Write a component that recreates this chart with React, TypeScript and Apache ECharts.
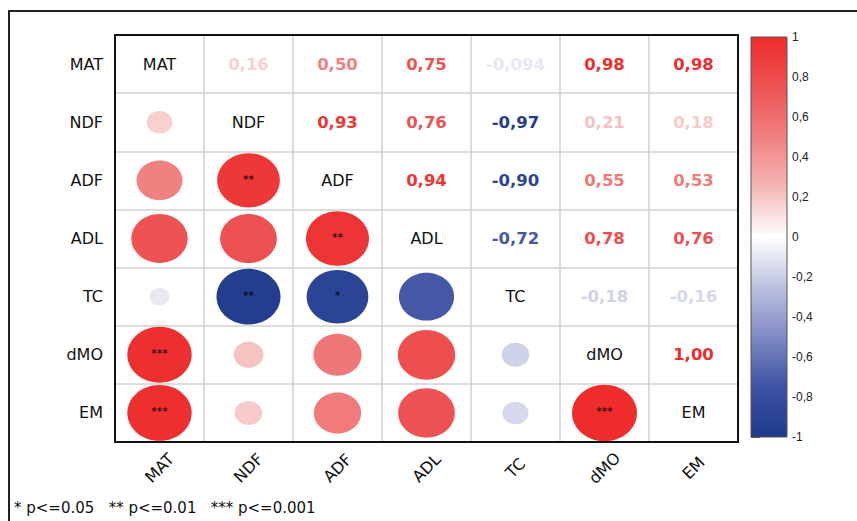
import React, { useEffect, useRef } from "react";
import * as echarts from "echarts";

// ---- data ----
const variables = ["MAT", "NDF", "ADF", "ADL", "TC", "dMO", "EM"];

const rowMAT = [1, 0.16, 0.5, 0.75, -0.094, 0.98, 0.98];
const rowNDF = [0.16, 1, 0.93, 0.76, -0.97, 0.21, 0.18];
const rowADF = [0.5, 0.93, 1, 0.94, -0.9, 0.55, 0.53];
const rowADL = [0.75, 0.76, 0.94, 1, -0.72, 0.78, 0.76];
const rowTC = [-0.094, -0.97, -0.9, -0.72, 1, -0.18, -0.16];
const rowDMO = [0.98, 0.21, 0.55, 0.78, -0.18, 1, 1.0];
const rowEM = [0.98, 0.18, 0.53, 0.76, -0.16, 1.0, 1];
const corrMatrix = [rowMAT, rowNDF, rowADF, rowADL, rowTC, rowDMO, rowEM];

// significance stars (lower triangle)
const starsMAT = ["", "", "", "", "", "", ""];
const starsNDF = ["", "", "", "", "", "", ""];
const starsADF = ["", "**", "", "", "", "", ""];
const starsADL = ["", "", "**", "", "", "", ""];
const starsTC = ["", "**", "*", "", "", "", ""];
const starsDMO = ["***", "", "", "", "", "", ""];
const starsEM = ["***", "", "", "", "", "***", ""];
const starsMatrix = [starsMAT, starsNDF, starsADF, starsADL, starsTC, starsDMO, starsEM];

const colorbarMin = -1;
const colorbarMax = 1;
const colorbarInterval = 0.2;
const footnote = "* p<=0.05   ** p<=0.01   *** p<=0.001";

// palette from -1 to 1
const palette = [
  "#1F3A8C",
  "#3E52A3",
  "#7F8AC3",
  "#BDC2E1",
  "#FFFFFF",
  "#F6B6B6",
  "#F18080",
  "#EE5353",
  "#EE2C2C",
];

function corrColor(v: number) {
  return echarts.color.lerp((v + 1) / 2, palette) as string;
}

function fmt(v: number) {
  const s = Math.abs(v) < 0.1 ? v.toFixed(3) : v.toFixed(2);
  return s.replace(".", ",");
}

type Cell = { col: number; row: number; value: number; stars: string };
const cells: Cell[] = [];
corrMatrix.forEach((r, i) =>
  r.forEach((v, j) => cells.push({ col: j, row: i, value: v, stars: starsMatrix[i][j] }))
);

// layout
const G = { left: 115, top: 35, width: 623, height: 407 };
const CB = { left: 751, top: 37, width: 36, height: 400 };

export default function App() {
  const ref = useRef<HTMLDivElement>(null);
  useEffect(() => {
    if (!ref.current) return;
    const chart = echarts.init(ref.current, undefined, { renderer: "svg" });

    const renderCell = (params: any, api: any) => {
      const cell = cells[params.dataIndex];
      const c = api.coord([cell.col, cell.row]);
      const size = api.size([1, 1]);
      const v = cell.value;
      if (cell.col === cell.row) {
        return {
          type: "text",
          x: c[0],
          y: c[1],
          style: {
            text: variables[cell.col],
            fill: "#111",
            fontSize: 16,
            fontFamily: "DejaVu Sans",
            align: "center",
            verticalAlign: "middle",
          },
        };
      }
      if (cell.col > cell.row) {
        return {
          type: "text",
          x: c[0],
          y: c[1],
          style: {
            text: fmt(v),
            fill: corrColor(v),
            fontSize: 16.5,
            fontWeight: "bold",
            fontFamily: "DejaVu Sans",
            align: "center",
            verticalAlign: "middle",
          },
        };
      }
      const s = Math.sqrt(Math.abs(v));
      const children: any[] = [
        {
          type: "ellipse",
          shape: { cx: c[0], cy: c[1], rx: 0.5 * 0.73 * size[0] * s, ry: 0.5 * 0.97 * size[1] * s },
          style: { fill: corrColor(v) },
        },
      ];
      if (cell.stars) {
        children.push({
          type: "text",
          x: c[0],
          y: c[1] - 1,
          style: {
            text: cell.stars,
            fill: "#000",
            fontSize: 11,
            fontFamily: "DejaVu Sans",
            align: "center",
            verticalAlign: "middle",
          },
        });
      }
      return { type: "group", children };
    };

    const renderColorbar = (_params: any, api: any) => {
      const tl = api.coord([0, colorbarMax]);
      const br = api.coord([1, colorbarMin]);
      const n = palette.length;
      const stops = palette
        .slice()
        .reverse()
        .map((color, k) => ({ offset: k / (n - 1), color }));
      return {
        type: "rect",
        shape: { x: tl[0], y: tl[1], width: br[0] - tl[0], height: br[1] - tl[1] },
        style: {
          fill: new echarts.graphic.LinearGradient(0, 0, 0, 1, stops),
          stroke: "#555",
          lineWidth: 1,
        },
      };
    };

    const labelFont = { fontSize: 16, fontFamily: "DejaVu Sans", color: "#111" };

    chart.setOption({
      animation: false,
      backgroundColor: "#fff",
      grid: [
        { left: G.left, top: G.top, width: G.width, height: G.height, show: false },
        { left: CB.left, top: CB.top, width: CB.width, height: CB.height, show: false },
      ],
      xAxis: [
        {
          gridIndex: 0,
          type: "category",
          data: variables,
          axisLine: { show: false },
          axisTick: { show: false },
          splitLine: { show: true, interval: 0, lineStyle: { color: "#D0D0D0", width: 1.5 } },
          axisLabel: {
            ...labelFont,
            interval: 0,
            rotate: 45,
            align: "center",
            verticalAlign: "middle",
            margin: 26,
          },
        },
        { gridIndex: 1, type: "value", min: 0, max: 1, show: false },
      ],
      yAxis: [
        {
          gridIndex: 0,
          type: "category",
          data: variables,
          inverse: true,
          axisLine: { show: false },
          axisTick: { show: false },
          splitLine: { show: true, interval: 0, lineStyle: { color: "#D0D0D0", width: 1.5 } },
          axisLabel: { ...labelFont, interval: 0, margin: 12 },
        },
        {
          gridIndex: 1,
          type: "value",
          min: colorbarMin,
          max: colorbarMax,
          interval: colorbarInterval,
          position: "right",
          axisLine: { show: false },
          axisTick: { show: true, length: 9, lineStyle: { color: "#555" } },
          splitLine: { show: false },
          axisLabel: {
            margin: 5,
            fontSize: 12,
            fontFamily: "Liberation Sans",
            color: "#222",
            formatter: (v: number) => String(Math.round(v * 10) / 10).replace(".", ","),
          },
        },
      ],
      series: [
        {
          type: "custom",
          xAxisIndex: 0,
          yAxisIndex: 0,
          clip: false,
          data: cells.map((c) => [c.col, c.row, c.value]),
          renderItem: renderCell,
        },
        {
          type: "custom",
          xAxisIndex: 1,
          yAxisIndex: 1,
          clip: false,
          data: [[0, 0]],
          renderItem: renderColorbar,
        },
      ],
      graphic: [
        {
          type: "rect",
          z: 100,
          shape: { x: 9, y: 11, width: 900, height: 600 },
          style: { fill: "none", stroke: "#222", lineWidth: 2 },
        },
        {
          type: "rect",
          z: 100,
          shape: { x: G.left, y: G.top, width: G.width, height: G.height },
          style: { fill: "none", stroke: "#111", lineWidth: 2 },
        },
        {
          type: "text",
          z: 100,
          x: 14,
          y: 508,
          style: {
            text: footnote,
            fill: "#111",
            fontSize: 15,
            fontFamily: "DejaVu Sans",
            verticalAlign: "middle",
          },
        },
      ],
    });
    return () => chart.dispose();
  }, []);
  return (
    <div
      ref={ref}
      style={{ position: "fixed", left: 0, top: 0, width: 857, height: 521 }}
    />
  );
}
